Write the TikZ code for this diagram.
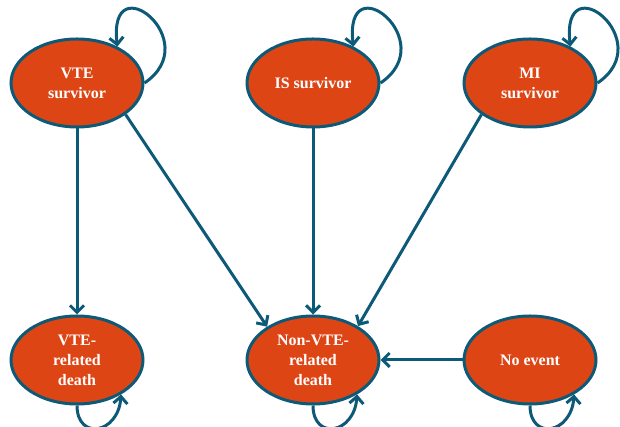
\documentclass[tikz,border=0pt]{standalone}
\usepackage{fontspec}
\setmainfont{Liberation Serif}
\usepackage{tikz}
\usetikzlibrary{shapes.geometric}
\usetikzlibrary{arrows.meta}
\definecolor{stateorange}{HTML}{DE4515}
\definecolor{stateblue}{HTML}{0D5A78}
\tikzset{>={Straight Barb[length=7pt,width=14pt]}}
\tikzset{state/.style={ellipse, draw=stateblue, fill=stateorange, line width=3pt,
    minimum width=132pt, minimum height=88pt, inner sep=0pt, align=center,
    text=white, font=\bfseries\fontsize{16}{20}\selectfont}}
\tikzset{trans/.style={->, draw=stateblue, line width=3pt}}

\begin{document}
\begin{tikzpicture}[x=1pt,y=1pt]
                \useasboundingbox (0,0) rectangle (620,427);
                \clip (0,0) rectangle (620,427);

                % Survivor states
                \node[state] (VTEsurv) at (77,344) {VTE\\survivor};
                \node[state] (ISsurv) at (313,344) {IS survivor};
                \node[state] (MIsurv) at (530,344) {MI\\survivor};

                % Death and no event states
                \node[state] (VTEdeath) at (77,67) {VTE-\\related\\death};
                \node[state] (NonVTEdeath) at (313,67) {Non-VTE-\\related\\death};
                \node[state] (noevent) at (530,67) {No event};

                % Transitions
                \draw[trans] (VTEsurv) -- (VTEdeath);
                \draw[trans] (VTEsurv.-33) -- (NonVTEdeath.144);
                \draw[trans] (ISsurv) -- (NonVTEdeath);
                \draw[trans] (MIsurv.-147) -- (NonVTEdeath.37);
                \draw[trans] (noevent) -- (NonVTEdeath);

                % Self loops
                \foreach \s in {VTEsurv,ISsurv,MIsurv}
                    \draw[trans] (\s.east) .. controls +(62,42) and +(-10,84) .. (\s.42);
                \foreach \s in {VTEdeath,NonVTEdeath,noevent}
                    \draw[trans] (\s.south) .. controls +(0,-35) and +(-3,-40) .. (\s.-38);
            \end{tikzpicture}
\end{document}
